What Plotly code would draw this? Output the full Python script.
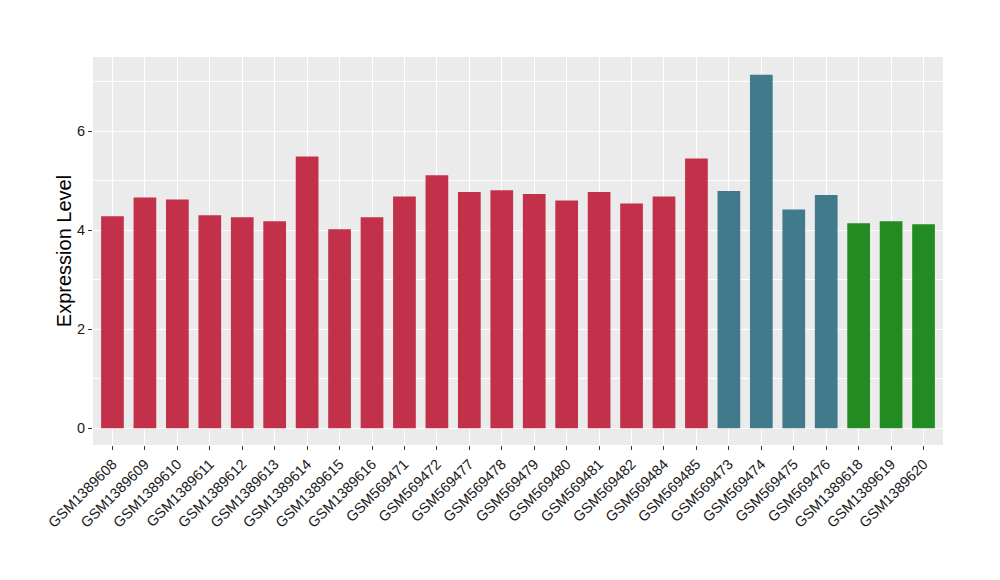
import plotly.graph_objects as go

samples = ["GSM1389608", "GSM1389609", "GSM1389610", "GSM1389611", "GSM1389612",
           "GSM1389613", "GSM1389614", "GSM1389615", "GSM1389616", "GSM569471",
           "GSM569472", "GSM569477", "GSM569478", "GSM569479", "GSM569480",
           "GSM569481", "GSM569482", "GSM569484", "GSM569485", "GSM569473",
           "GSM569474", "GSM569475", "GSM569476", "GSM1389618", "GSM1389619",
           "GSM1389620"]
values = [4.28, 4.66, 4.62, 4.30, 4.26, 4.18, 5.49, 4.02, 4.26, 4.68,
          5.11, 4.77, 4.81, 4.73, 4.60, 4.77, 4.54, 4.68, 5.45, 4.79,
          7.14, 4.42, 4.71, 4.14, 4.18, 4.12]
groups = ["A"] * 19 + ["B"] * 4 + ["C"] * 3
group_colors = {"A": "#C3304A", "B": "#417A8B", "C": "#228B22"}
colors = [group_colors[g] for g in groups]

fig = go.Figure(go.Bar(x=samples, y=values, marker=dict(color=colors, line=dict(width=0)),
                       width=0.7, showlegend=False))

fig.update_layout(
    width=1000, height=580,
    paper_bgcolor="white", plot_bgcolor="#EBEBEB",
    margin=dict(l=85, r=65, t=49, b=143, autoexpand=False),
    font=dict(family="Liberation Sans, Arial, sans-serif", color="#1a1a1a"),
    bargap=0.3,
)
fig.update_xaxes(
    type="category", range=[-0.6, 25.6], tickangle=-45, automargin=False,
    showgrid=True, gridcolor="white", gridwidth=1.3,
    ticks="outside", ticklen=4, tickcolor="#333333", tickwidth=1,
    tickfont=dict(size=14.5, color="#1a1a1a"), zeroline=False, showline=False,
)
fig.update_yaxes(
    range=[-0.34, 7.5], tick0=0, dtick=2, automargin=False,
    showgrid=True, gridcolor="white", gridwidth=1.3,
    minor=dict(dtick=1, tick0=0, showgrid=True, gridcolor="white", gridwidth=0.6),
    ticks="outside", ticklen=4, tickcolor="#333333", tickwidth=1,
    tickfont=dict(size=14.5, color="#1a1a1a"), zeroline=False, showline=False,
    title=dict(text="Expression Level", font=dict(size=20, color="black"), standoff=0),
)

fig.write_html("out.html")
